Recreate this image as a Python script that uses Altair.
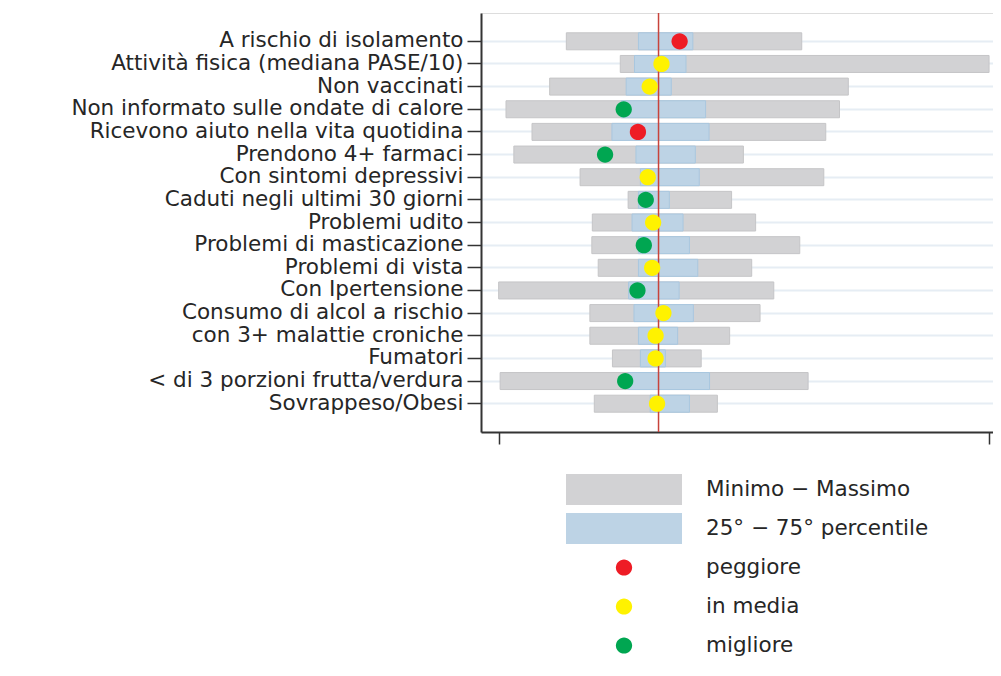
import altair as alt
import pandas as pd

# ---------------- data ----------------
categories = [
    "A rischio di isolamento",
    "Attività fisica (mediana PASE/10)",
    "Non vaccinati",
    "Non informato sulle ondate di calore",
    "Ricevono aiuto nella vita quotidina",
    "Prendono 4+ farmaci",
    "Con sintomi depressivi",
    "Caduti negli ultimi 30 giorni",
    "Problemi udito",
    "Problemi di masticazione",
    "Problemi di vista",
    "Con Ipertensione",
    "Consumo di alcol a rischio",
    "con 3+ malattie croniche",
    "Fumatori",
    "< di 3 porzioni frutta/verdura",
    "Sovrappeso/Obesi",
]
minimo   = [13.8, 24.8, 10.4, 1.5, 6.8, 3.1, 16.6, 26.4, 19.1, 19.0, 20.3, 0.0, 18.6, 18.6, 23.2, 0.3, 19.5]
massimo  = [61.8, 100.0, 71.3, 69.5, 66.7, 49.9, 66.3, 47.5, 52.4, 61.4, 51.6, 56.1, 53.3, 47.1, 41.3, 63.1, 44.6]
p25      = [28.5, 27.7, 26.0, 25.0, 23.1, 28.0, 28.9, 28.5, 27.2, 28.5, 28.5, 26.5, 27.6, 28.5, 28.9, 26.4, 30.9]
p75      = [39.6, 38.2, 35.2, 42.2, 42.9, 40.1, 40.9, 34.8, 37.6, 38.9, 40.6, 36.8, 39.7, 36.5, 34.0, 43.0, 38.9]
valore   = [36.9, 33.2, 30.8, 25.5, 28.4, 21.7, 30.4, 30.0, 31.5, 29.6, 31.3, 28.3, 33.6, 32.0, 32.0, 25.8, 32.3]
giudizio = ["peggiore", "in media", "in media", "migliore", "peggiore", "migliore", "in media",
            "migliore", "in media", "migliore", "in media", "migliore", "in media", "in media",
            "in media", "migliore", "in media"]
riferimento = [32.6]
x_ticks = [0, 100]

legend_labels = ["Minimo − Massimo", "25° − 75° percentile", "peggiore", "in media", "migliore"]
legend_colors = ["#d2d2d4", "#bdd3e5", "#ee1c25", "#fff200", "#00a651"]

# ---------------- styling ----------------
FONT = "DejaVu Sans"
FS = 21.5
TXT = "#262626"
AX = "#333333"
SYM = 13456  # symbol area -> 116 px wide legend boxes
rect_path = "M-1,-0.267H1V0.267H-1Z"
r = 0.14
circ_path = f"M{r},0A{r},{r},0,1,1,{-r},0A{r},{r},0,1,1,{r},0Z"

df = pd.DataFrame({
    "cat": categories, "min": minimo, "max": massimo,
    "p25": p25, "p75": p75, "val": valore, "giudizio": giudizio,
})
ref_df = pd.DataFrame({"ref": riferimento})

leg = alt.Legend(
    title=None, orient="none", legendX=85, legendY=461, direction="vertical",
    labelFont=FONT, labelFontSize=FS, labelColor=TXT, symbolSize=SYM,
    symbolStrokeWidth=0, labelOffset=24, rowPadding=8, padding=0,
    symbolOffset=0, labelLimit=400, clipHeight=31,
)
color_scale = alt.Scale(domain=legend_labels, range=legend_colors)
shape_scale = alt.Scale(domain=legend_labels,
                        range=[rect_path, rect_path, circ_path, circ_path, circ_path])

y_enc = alt.Y(
    "cat:N", sort=categories, title=None,
    scale=alt.Scale(type="band", paddingInner=0.25, paddingOuter=0.875),
    axis=alt.Axis(
        labelFont=FONT, labelFontSize=FS, labelColor=TXT, labelPadding=4,
        tickSize=14, tickWidth=1.5, tickColor=AX, domainColor=AX, domainWidth=2,
        grid=True, gridColor="#e6edf4", gridWidth=2, labelLimit=500,
        minExtent=473, maxExtent=473, bandPosition=0.5,
    ),
)
x_scale = alt.Scale(domain=[-3.6, 100.8], nice=False, zero=False)
x_axis = alt.Axis(values=x_ticks, labels=False, title=None, tickSize=12, tickWidth=1.5,
                  tickColor=AX, domainColor=AX, domainWidth=2, grid=False)

base = alt.Chart(df)

gray = base.transform_calculate(kind="'Minimo − Massimo'").mark_bar(
    size=17, stroke="#c5c5c7", strokeWidth=1
).encode(
    y=y_enc,
    x=alt.X("min:Q", scale=x_scale, axis=x_axis),
    x2="max:Q",
    color=alt.Color("kind:N", scale=color_scale, legend=leg),
)

blue = base.transform_calculate(kind="'25° − 75° percentile'").mark_bar(
    size=17, stroke="#a9c7df", strokeWidth=1
).encode(
    y=y_enc,
    x=alt.X("p25:Q", scale=x_scale, axis=x_axis),
    x2="p75:Q",
    color=alt.Color("kind:N", scale=color_scale, legend=leg),
)

rule = alt.Chart(ref_df).mark_rule(color="#c8433b", strokeWidth=1.5).encode(
    x=alt.X("ref:Q", scale=x_scale, axis=x_axis),
)

dots = base.transform_calculate(kind="datum.giudizio").mark_point(
    filled=True, size=SYM, opacity=1, strokeWidth=0
).encode(
    y=y_enc,
    x=alt.X("val:Q", scale=x_scale, axis=x_axis),
    color=alt.Color("kind:N", scale=color_scale, legend=leg),
    shape=alt.Shape("kind:N", scale=shape_scale, legend=leg),
)

chart = alt.layer(gray, blue, rule, dots).properties(
    width=512, height=419,
    padding={"left": 0, "top": 4, "right": 0, "bottom": 0},
).configure_view(stroke=None).configure(background="white")

chart.save("out.html", embed_options={"renderer": "svg", "actions": False})
